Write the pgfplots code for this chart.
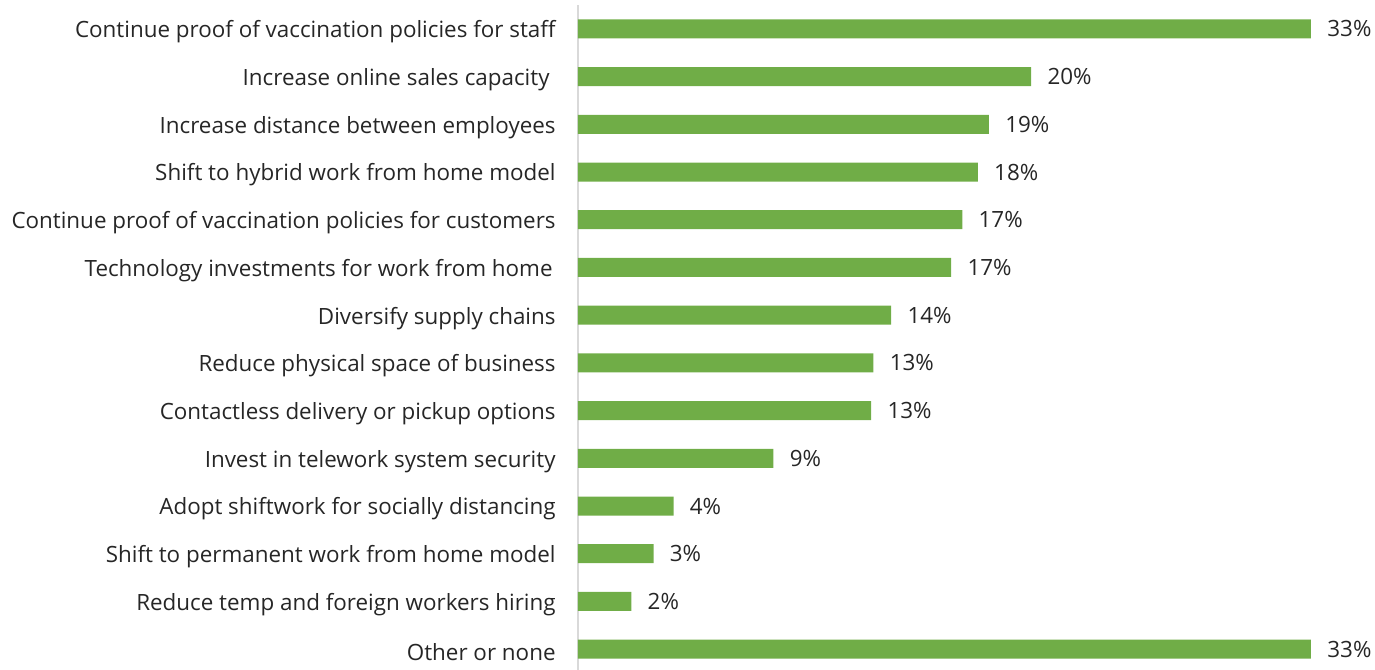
\documentclass[border=0pt]{standalone}
\usepackage{pgfplots}
\pgfplotsset{compat=1.18}
\usepackage{fontspec}
\setmainfont{Open Sans}
\definecolor{bargreen}{RGB}{112,173,71}
\definecolor{axisgray}{RGB}{217,217,217}
\definecolor{txt}{RGB}{38,38,38}
\begin{document}
\begin{tikzpicture}
\useasboundingbox (-289pt,2pt) rectangle (398.5pt,336.5pt);
\begin{axis}[
  at={(0,0)}, anchor=south west,
  scale only axis,
  width=366.5pt, height=334pt,
  xbar, bar width=9.5pt,
  xmin=0, xmax=33,
  ymin=-0.5, ymax=13.5,
  y dir=reverse,
  axis x line=none,
  axis y line=left,
  y axis line style={-, draw=axisgray, line width=1pt},
  ytick={0,...,13},
  major tick length=0pt,
  yticklabels={
    Continue proof of vaccination policies for staff,
    Increase online sales capacity\rule{3pt}{0pt},
    Increase distance between employees,
    Shift to hybrid work from home model,
    Continue proof of vaccination policies for customers,
    Technology investments for work from home\rule{1.5pt}{0pt},
    Diversify supply chains,
    Reduce physical space of business,
    Contactless delivery or pickup options,
    Invest in telework system security,
    Adopt shiftwork for socially distancing,
    Shift to permanent work from home model,
    Reduce temp and foreign workers hiring,
    Other or none},
  yticklabel style={font=\fontsize{11.2pt}{13pt}\selectfont, text=txt, inner sep=0pt, anchor=east, yshift=-1.5pt},
  yticklabel shift=11pt,
  /pgf/number format/assume math mode=true,
  nodes near coords={\pgfmathprintnumber[fixed,precision=0,assume math mode=true]{\pgfplotspointmeta}\%},
  point meta=x,
  nodes near coords style={font=\fontsize{11.2pt}{13pt}\selectfont, text=txt, anchor=west, inner sep=0pt, xshift=8pt},
  clip=false,
]
\addplot[fill=bargreen, draw=none] coordinates {
  (33.0,0) (20.4,1) (18.5,2) (18.0,3) (17.3,4) (16.8,5) (14.1,6)
  (13.3,7) (13.2,8) (8.8,9) (4.3,10) (3.4,11) (2.4,12) (33.0,13)
};
\end{axis}
\end{tikzpicture}
\end{document}
